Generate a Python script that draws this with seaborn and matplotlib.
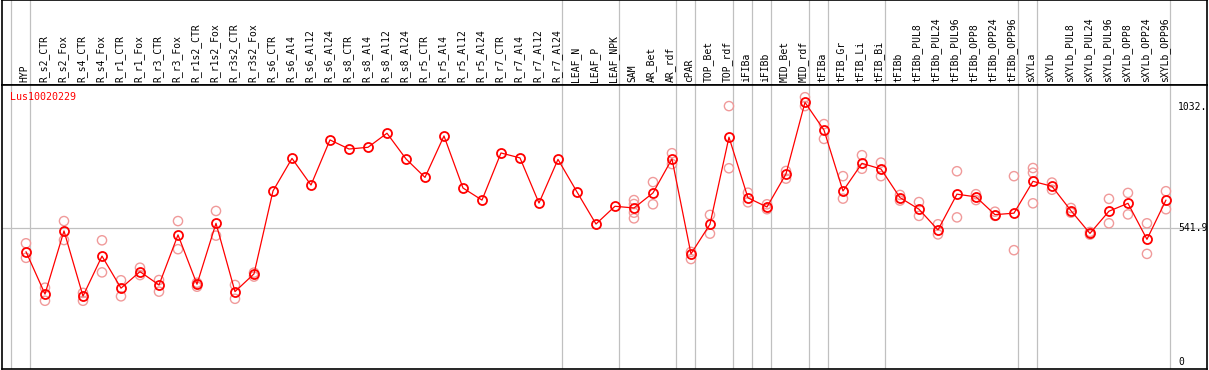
import numpy as np
import pandas as pd
import matplotlib
matplotlib.use('Agg')
import matplotlib.pyplot as plt
import matplotlib.transforms as mtrans
import seaborn as sns

# categories (x order)
categories = ['HYP', 'R_s2_CTR', 'R_s2_Fox', 'R_s4_CTR', 'R_s4_Fox', 'R_r1_CTR', 'R_r1_Fox',
              'R_r3_CTR', 'R_r3_Fox', 'R_r1s2_CTR', 'R_r1s2_Fox', 'R_r3s2_CTR', 'R_r3s2_Fox',
              'R_s6_CTR', 'R_s6_Al4', 'R_s6_Al12', 'R_s6_Al24', 'R_s8_CTR', 'R_s8_Al4',
              'R_s8_Al12', 'R_s8_Al24', 'R_r5_CTR', 'R_r5_Al4', 'R_r5_Al12', 'R_r5_Al24',
              'R_r7_CTR', 'R_r7_Al4', 'R_r7_Al12', 'R_r7_Al24', 'LEAF_N', 'LEAF_P', 'LEAF_NPK',
              'SAM', 'AR_Bet', 'AR_rdf', 'cPAR', 'TOP_Bet', 'TOP_rdf', 'iFIBa', 'iFIBb',
              'MID_Bet', 'MID_rdf', 'tFIBa', 'tFIB_Gr', 'tFIB_Li', 'tFIB_Bi', 'tFIBb',
              'tFIBb_PUL8', 'tFIBb_PUL24', 'tFIBb_PUL96', 'tFIBb_OPP8', 'tFIBb_OPP24',
              'tFIBb_OPP96', 'sXYLa', 'sXYLb', 'sXYLb_PUL8', 'sXYLb_PUL24', 'sXYLb_PUL96',
              'sXYLb_OPP8', 'sXYLb_OPP24', 'sXYLb_OPP96']

# mean expression per sample
mean_values = [446, 274, 530, 266, 428, 298, 365, 311, 514, 314, 561, 284, 356,
               692, 824, 716, 899, 862, 869, 926, 822, 747, 915, 704, 655,
               846, 826, 643, 820, 688, 558, 630,
               623, 684, 822, 437, 557, 910, 664, 627,
               761, 1051, 939, 692, 804, 781, 665,
               618, 534, 679, 668, 596, 602, 731, 711, 612, 520, 610, 642, 496, 655]

# replicate values (empty where they sit under the mean)
replicates = [
    [480, 421], [300, 247], [570, 493], [279, 247], [492, 362], [330, 265], [381, 351],
    [331, 284], [570, 456], [320, 304], [611, 511], [311, 255], [361, 345],
    [], [], [], [], [], [], [], [], [], [], [], [], [], [], [], [], [], [], [],
    [655, 639, 604, 581], [728, 638], [845, 801], [445, 416], [595, 519], [1036, 784],
    [685, 646], [638, 618], [773, 742], [1072, 1036], [963, 903], [752, 661],
    [837, 782], [807, 752], [676, 653],
    [647, 591], [557, 516], [772, 585], [679, 655], [608, 591], [752, 452],
    [785, 766, 642], [726, 697], [623, 604], [526, 515], [660, 561], [684, 597],
    [561, 437], [691, 618],
]

# indices of samples followed by a grey separator
separators = [-1, 0, 28, 31, 34, 35, 37, 38, 39, 41, 42, 45, 52, 53, 60]

gene = 'Lus10020229'
ytick_vals = [1032, 541.9, 0]
ytick_text = ['1032.', '541.9', '0']

mean_df = pd.DataFrame({'x': np.arange(len(categories)), 'value': mean_values})
rep_df = pd.DataFrame([(i, v) for i, reps in enumerate(replicates) for v in reps],
                      columns=['x', 'value'])

sns.set_style('white')
plt.rcParams['font.family'] = ['DejaVu Sans Mono', 'DejaVu Sans']

W, H = 1209, 370
fig = plt.figure(figsize=(W / 100, H / 100), dpi=100)
ax_h = fig.add_axes([2 / W, (H - 85) / H, 1205 / W, 85 / H])
ax = fig.add_axes([2 / W, 1 / H, 1205 / W, 284 / H])

xlim = (-1.263, 62.16)
for a in (ax, ax_h):
    a.set_xlim(*xlim)
    a.set_xticks([])
    a.set_yticks([])
    for s in a.spines.values():
        s.set_color('black')
        s.set_linewidth(1.2)
    for sep in separators:
        a.axvline(sep + 0.22, color='#c0c0c0', lw=0.9, zorder=0)

ax_h.set_ylim(0, 1)
for i, lab in enumerate(categories):
    ax_h.text(i - 0.08, 0.035, lab, rotation=90, ha='center', va='bottom',
              fontsize=7, color='black')

ax.set_ylim(-29.6, 1121.5)
ax.axhline(541.9, color='#c0c0c0', lw=0.9, zorder=0)

sns.scatterplot(data=rep_df, x='x', y='value', ax=ax, marker='o', s=44,
                facecolor='none', edgecolor='#f09a9a', linewidth=1.0, zorder=2, legend=False)
sns.lineplot(data=mean_df, x='x', y='value', ax=ax, color='red', lw=0.9,
             marker='o', markersize=6.5, markerfacecolor='none',
             markeredgecolor='red', markeredgewidth=1.3, zorder=3)
ax.set_xlabel('')
ax.set_ylabel('')
ax.set_xticks([])
ax.set_yticks([])

trans = mtrans.blended_transform_factory(ax.transAxes, ax.transData)
for v, t in zip(ytick_vals, ytick_text):
    ax.text((1178 - 2) / 1205, v, t, transform=trans, ha='left', va='center',
            fontsize=7, color='black')

ax.text(8 / 1205, 1.0 - 12 / 284, gene, transform=ax.transAxes, ha='left', va='center',
        fontsize=7.2, color='red')

fig.savefig('out.png', dpi=100)
